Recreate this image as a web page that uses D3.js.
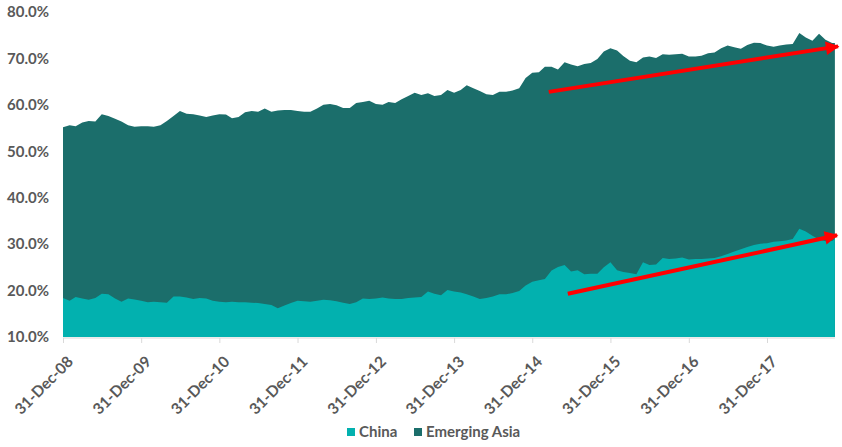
<!DOCTYPE html>
<html>
<head>
<meta charset="utf-8">
<script src="https://cdn.jsdelivr.net/npm/d3@7"></script>
<style>
  body { margin: 0; background: #fff; }
  svg text { font-family: Lato, "Open Sans", sans-serif; font-weight: bold; fill: #595959; }
</style>
</head>
<body>
<svg id="chart"></svg>
<script>
// Dimensioni
const width = 842, height = 447;

// Serie mensili (fine mese, da 31-Dec-08), valori in %
const emergingAsia = [
  55.2, 55.6, 55.4, 56.2, 56.5, 56.4, 58.0, 57.6, 57.0, 56.4, 55.6, 55.3,
  55.4, 55.4, 55.3, 55.6, 56.5, 57.6, 58.7, 58.1, 58.0, 57.7, 57.4, 57.7,
  58.0, 57.9, 57.1, 57.4, 58.4, 58.7, 58.5, 59.2, 58.5, 58.8, 58.9, 58.9,
  58.7, 58.5, 58.5, 59.2, 60.0, 60.2, 59.9, 59.3, 59.3, 60.4, 60.6, 60.9,
  60.2, 60.0, 60.6, 60.4, 61.2, 61.9, 62.6, 62.1, 62.5, 61.9, 62.1, 63.2,
  62.6, 63.2, 64.2, 63.6, 63.0, 62.3, 62.1, 62.8, 62.8, 63.1, 63.6, 65.8,
  66.9, 67.0, 68.2, 68.2, 67.6, 69.2, 68.7, 68.3, 68.8, 69.0, 69.9, 71.5,
  72.2, 71.7, 70.5, 69.5, 69.2, 70.2, 70.4, 70.1, 70.9, 70.8, 70.9, 71.0,
  70.4, 70.4, 70.6, 71.1, 71.3, 72.2, 72.8, 72.4, 72.1, 72.9, 73.4, 73.3,
  72.8, 72.5, 72.8, 73.0, 73.1, 75.5, 74.5, 73.8, 75.3, 74.0, 73.3, 73.3
];
const china = [
  18.4, 17.8, 18.6, 18.3, 18.0, 18.4, 19.3, 19.2, 18.3, 17.6, 18.3, 18.1,
  17.8, 17.5, 17.6, 17.5, 17.4, 18.7, 18.7, 18.5, 18.2, 18.4, 18.3, 17.8,
  17.6, 17.5, 17.6, 17.5, 17.5, 17.4, 17.3, 17.1, 16.9, 16.2, 16.8, 17.3,
  17.8, 17.7, 17.6, 17.8, 18.0, 17.9, 17.7, 17.4, 17.1, 17.5, 18.3, 18.2,
  18.3, 18.5, 18.3, 18.2, 18.2, 18.4, 18.5, 18.6, 19.8, 19.3, 19.0, 20.1,
  19.8, 19.6, 19.2, 18.7, 18.2, 18.4, 18.7, 19.2, 19.2, 19.5, 19.9, 21.1,
  21.9, 22.2, 22.5, 24.3, 25.1, 25.5, 24.1, 24.4, 23.5, 23.6, 23.6, 25.0,
  26.1, 24.4, 24.0, 23.8, 23.5, 26.1, 25.5, 25.6, 27.0, 26.8, 26.9, 27.1,
  26.7, 26.8, 26.8, 26.9, 27.0, 27.4, 27.9, 28.4, 28.9, 29.4, 29.8, 30.1,
  30.2, 30.5, 30.6, 30.8, 31.1, 33.3, 32.7, 31.8, 31.0, 30.6, 30.7, 31.1
];

// Date: fine mese da 31-Dec-08 a 31-Oct-18, piu' ultimo dato
const lastDate = new Date(2018, 10, 13);
const dates = d3.timeMonth.range(new Date(2009, 0, 1), new Date(2018, 10, 2))
  .map(d => d3.timeDay.offset(d, -1))
  .concat([lastDate]);

const yTicks = [10, 20, 30, 40, 50, 60, 70, 80];
const xTicks = d3.range(2008, 2018).map(y => new Date(y, 11, 31));

const seriesNames = ['China', 'Emerging Asia'];
const colors = { 'China': '#02b1af', 'Emerging Asia': '#1b6e6b' };

// Frecce rosse di trend: [data, valore]
const arrows = [
  { from: [new Date(2015, 2, 18), 62.8], to: [new Date(2018, 10, 28), 72.6] },
  { from: [new Date(2015, 5, 15), 19.3], to: [new Date(2018, 10, 23), 31.9] }
];

const data = dates.map((d, i) => ({ date: d, ea: emergingAsia[i], cn: china[i] }));

const svg = d3.select('#chart')
  .attr('width', width)
  .attr('height', height);

const x = d3.scaleTime()
  .domain([xTicks[0], xTicks[xTicks.length - 1]])
  .range([63, 767]);

const y = d3.scaleLinear()
  .domain([10, 80])
  .range([337, 12]);

// Aree
const areaEA = d3.area()
  .x(d => x(d.date))
  .y0(y(10))
  .y1(d => y(d.ea));

const areaCN = d3.area()
  .x(d => x(d.date))
  .y0(y(10))
  .y1(d => y(d.cn));

svg.append('path')
  .datum(data)
  .attr('fill', colors['Emerging Asia'])
  .attr('d', areaEA);

svg.append('path')
  .datum(data)
  .attr('fill', colors['China'])
  .attr('d', areaCN);

// Asse Y
const yAxis = svg.append('g')
  .attr('transform', `translate(${x(xTicks[0])},0)`)
  .call(d3.axisLeft(y).tickValues(yTicks).tickSize(0).tickPadding(14)
    .tickFormat(d => d.toFixed(1) + '%'));
yAxis.select('.domain').remove();
yAxis.selectAll('text').attr('font-size', '15px');

// Asse X
const xAxis = svg.append('g')
  .attr('transform', `translate(0,${y(10) + 1})`)
  .call(d3.axisBottom(x).tickValues(xTicks).tickSize(5).tickSizeOuter(0)
    .tickFormat(d3.timeFormat('%d-%b-%y')));
xAxis.select('.domain').remove();
xAxis.selectAll('.tick line').attr('stroke', '#d9d9d9');
xAxis.selectAll('text')
  .attr('font-size', '15.5px')
  .attr('text-anchor', 'end')
  .attr('dy', 0)
  .attr('transform', 'translate(5,19) rotate(-45)');

xAxis.append('line')
  .attr('x1', x(xTicks[0]))
  .attr('x2', x(lastDate))
  .attr('stroke', '#d9d9d9');

// Frecce
svg.append('defs').append('marker')
  .attr('id', 'arrowhead')
  .attr('viewBox', '0 0 10 10')
  .attr('refX', 9).attr('refY', 5)
  .attr('markerWidth', 3.6).attr('markerHeight', 3.4)
  .attr('orient', 'auto')
  .append('path')
  .attr('d', 'M0,0 L10,5 L0,10 Z')
  .attr('fill', '#ff0000');

svg.selectAll('.trend')
  .data(arrows)
  .enter()
  .append('line')
  .attr('class', 'trend')
  .attr('x1', d => x(d.from[0])).attr('y1', d => y(d.from[1]))
  .attr('x2', d => x(d.to[0])).attr('y2', d => y(d.to[1]))
  .attr('stroke', '#ff0000')
  .attr('stroke-width', 4)
  .attr('marker-end', 'url(#arrowhead)');

// Legenda
const legend = svg.append('g')
  .attr('transform', 'translate(347,432)');
const items = legend.selectAll('g')
  .data(seriesNames)
  .enter()
  .append('g')
  .attr('transform', (d, i) => `translate(${i * 67},0)`);
items.append('rect')
  .attr('x', 0).attr('y', -4)
  .attr('width', 8).attr('height', 8)
  .attr('fill', d => colors[d]);
items.append('text')
  .attr('x', 12)
  .attr('dy', '0.35em')
  .attr('font-size', '15px')
  .text(d => d);
</script>
</body>
</html>
